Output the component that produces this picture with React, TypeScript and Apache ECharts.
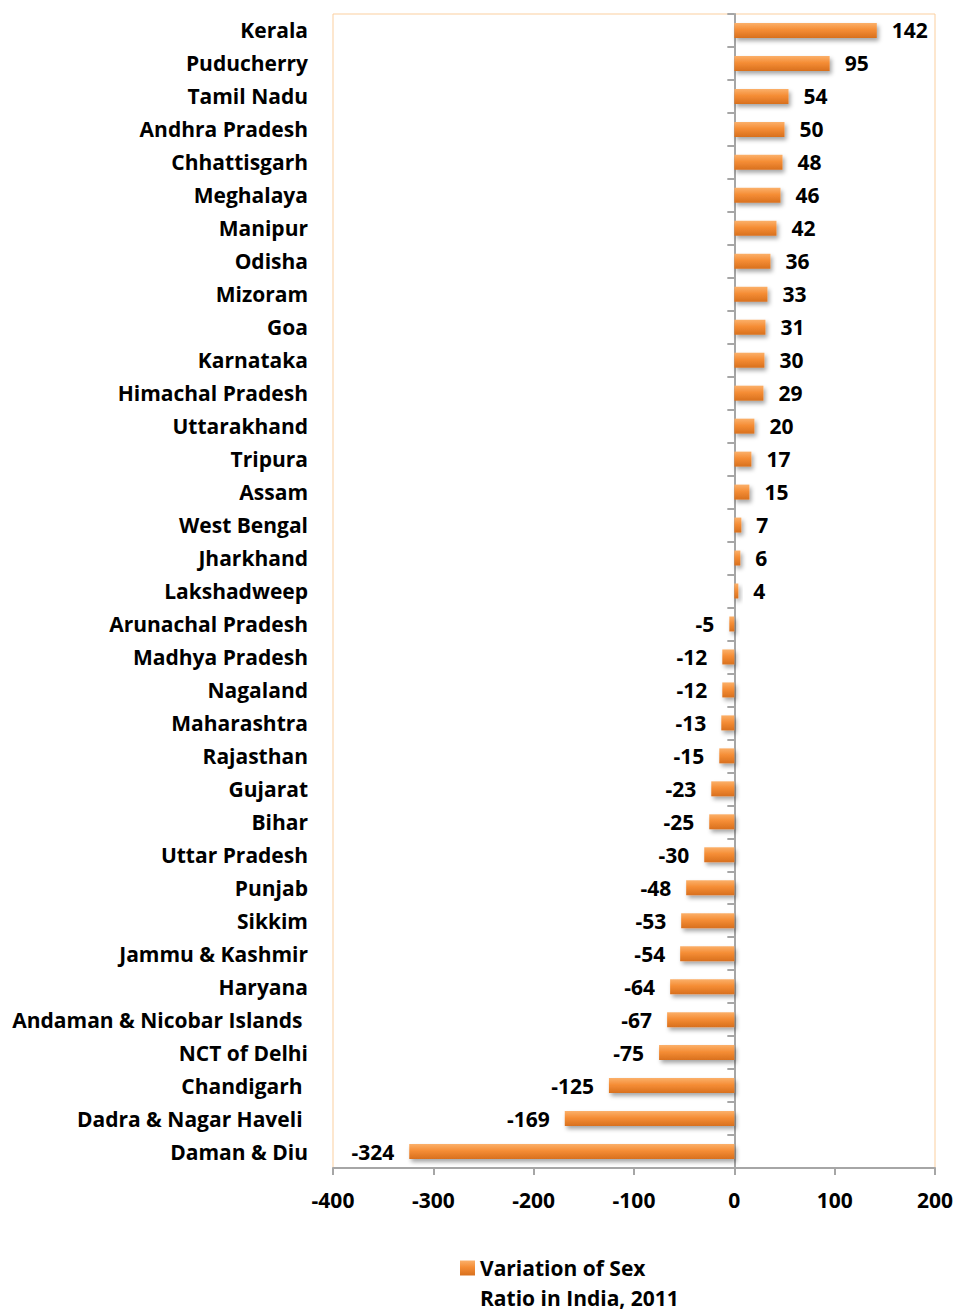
import React, { useEffect, useRef } from "react";
import * as echarts from "echarts";

const states = [
  "Kerala", "Puducherry", "Tamil Nadu", "Andhra Pradesh", "Chhattisgarh", "Meghalaya",
  "Manipur", "Odisha", "Mizoram", "Goa", "Karnataka", "Himachal Pradesh", "Uttarakhand",
  "Tripura", "Assam", "West Bengal", "Jharkhand", "Lakshadweep", "Arunachal Pradesh",
  "Madhya Pradesh", "Nagaland", "Maharashtra", "Rajasthan", "Gujarat", "Bihar",
  "Uttar Pradesh", "Punjab", "Sikkim", "Jammu & Kashmir", "Haryana",
  "Andaman & Nicobar Islands ", "NCT of Delhi", "Chandigarh ", "Dadra & Nagar Haveli ", "Daman & Diu",
];
const variation = [
  142, 95, 54, 50, 48, 46, 42, 36, 33, 31, 30, 29, 20, 17, 15, 7, 6, 4, -5,
  -12, -12, -13, -15, -23, -25, -30, -48, -53, -54, -64, -67, -75, -125, -169, -324,
];
const seriesName = "Variation of Sex\nRatio in India, 2011";
const xTicks = { min: -400, max: 200, interval: 100 };

const FONT = "Open Sans";
const FS = 21;

export default function App() {
  const ref = useRef<HTMLDivElement>(null);
  useEffect(() => {
    if (!ref.current) return;
    const chart = echarts.init(ref.current, null, { renderer: "svg" });
    const barColor = new echarts.graphic.LinearGradient(0, 0, 0, 1, [
      { offset: 0, color: "#fbb06a" },
      { offset: 0.45, color: "#f58d35" },
      { offset: 1, color: "#d8701e" },
    ]);
    chart.setOption({
      animation: false,
      grid: {
        left: 333, right: 23, top: 14, bottom: 144,
        show: true, borderColor: "#fbcf9f", borderWidth: 1, backgroundColor: "transparent",
      },
      legend: {
        data: [seriesName],
        left: 455, top: 1218,
        icon: "rect", itemWidth: 15, itemHeight: 15, itemGap: 6,
        formatter: (name: string) => "\n" + name,
        textStyle: {
          fontFamily: FONT, fontWeight: "bold", fontSize: FS, color: "#000",
          lineHeight: 30,
        },
      },
      xAxis: {
        type: "value", min: xTicks.min, max: xTicks.max, interval: xTicks.interval,
        splitLine: { show: false },
        axisLine: { show: true, lineStyle: { color: "#a6a6a6", width: 2 } },
        axisTick: { show: true, length: 7, lineStyle: { color: "#a6a6a6", width: 2 } },
        axisLabel: { fontFamily: FONT, fontWeight: "bold", fontSize: FS, color: "#000", margin: 21 },
      },
      yAxis: [
        {
          type: "category", data: states, inverse: true,
          axisLine: { show: false, onZero: false },
          axisTick: { show: false },
          axisLabel: { fontFamily: FONT, fontWeight: "bold", fontSize: FS, color: "#000", margin: 25 },
        },
        {
          type: "category", data: states, inverse: true, position: "left",
          axisLine: { show: true, onZero: true, lineStyle: { color: "#a6a6a6", width: 2 } },
          axisTick: { show: true, length: 7, lineStyle: { color: "#a6a6a6", width: 2 } },
          axisLabel: { show: false },
        },
      ],
      series: [
        {
          name: seriesName,
          type: "bar",
          yAxisIndex: 0,
          barWidth: 15,
          data: variation.map((v) => ({
            value: v,
            label: { position: v < 0 ? "left" : "right" },
          })),
          itemStyle: {
            color: barColor,
            shadowColor: "rgba(0,0,0,0.35)", shadowBlur: 4, shadowOffsetX: 2, shadowOffsetY: 3,
          },
          label: {
            show: true, distance: 15,
            fontFamily: FONT, fontWeight: "bold", fontSize: FS, color: "#000",
          },
        },
      ],
    });
    return () => chart.dispose();
  }, []);
  return <div ref={ref} style={{ width: 958, height: 1312, position: "absolute", left: 0, top: 0 }} />;
}
